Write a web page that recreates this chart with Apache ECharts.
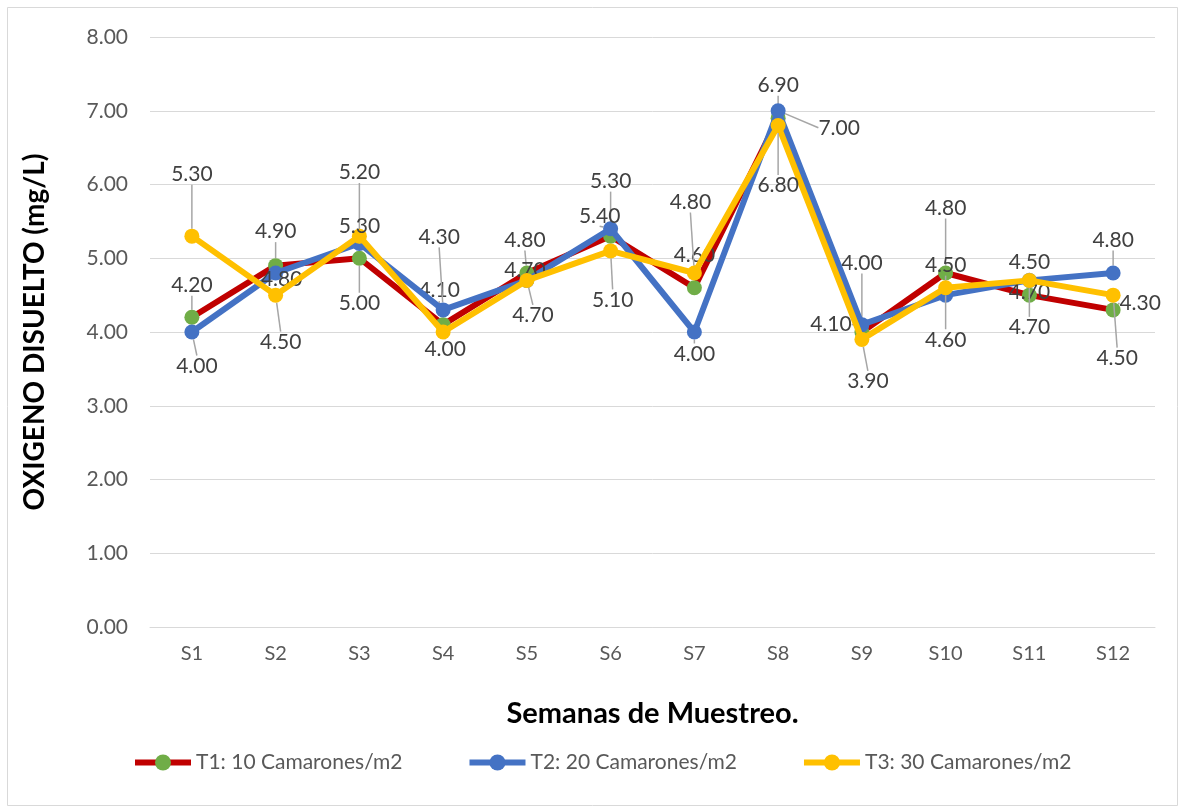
<!DOCTYPE html>
<html>
<head>
<meta charset="utf-8">
<script src="https://cdn.jsdelivr.net/npm/echarts@6/dist/echarts.min.js"></script>
<style>
html,body{margin:0;padding:0;background:#fff;}
#c{width:1181px;height:809px;}
</style>
</head>
<body>
<div id="c"></div>
<script>
// ---- Data ----
var categories = ['S1','S2','S3','S4','S5','S6','S7','S8','S9','S10','S11','S12'];
var seriesNames = ['T1: 10 Camarones/m2','T2: 20 Camarones/m2','T3: 30 Camarones/m2'];
var t1Values = [4.2, 4.9, 5.0, 4.1, 4.8, 5.3, 4.6, 6.9, 4.0, 4.8, 4.5, 4.3];
var t2Values = [4.0, 4.8, 5.2, 4.3, 4.7, 5.4, 4.0, 7.0, 4.1, 4.5, 4.7, 4.8];
var t3Values = [5.3, 4.5, 5.3, 4.0, 4.7, 5.1, 4.8, 6.8, 3.9, 4.6, 4.7, 4.5];
var yTicks = [0, 1, 2, 3, 4, 5, 6, 7, 8];

// label offsets (pixels, relative to the marker) — styling only
var t1Off = [[0,-32],[0,-34],[0,45],[-4,-34],[-2,-33],[0,-55],[0,-33],[0,-33],[0,-69],[0,-65],[0,-33],[27,-7]];
var t2Off = [[5,34],[6,6],[0,-71],[-4,-73],[-2,-10],[-11,-13],[0,22],[61,17],[-31,0],[0,-30],[0,12],[0,-33]];
var t3Off = [[0,-62],[5,47],[0,-10],[2,17],[6,35],[2,49],[-4,-71],[0,60],[6,42],[0,52],[0,47],[4,63]];
var offsets = [t1Off, t2Off, t3Off];

var FONT = 'Lato, "Open Sans", sans-serif';
var chart = echarts.init(document.getElementById('c'), null, {renderer:'canvas'});

function mkSeries(idx, name, data, lineColor, symColor) {
  return {
    name: name,
    type: 'line',
    data: data,
    z: 2 + idx,
    symbol: 'circle',
    symbolSize: 15,
    lineStyle: {color: lineColor, width: 6},
    itemStyle: {color: symColor, borderWidth: 0},
    label: {
      show: true,
      position: 'inside',
      formatter: function(p){ return p.value.toFixed(2); },
      fontFamily: FONT,
      fontSize: 21,
      color: '#404040'
    },
    labelLine: {show: true, lineStyle: {color: '#A6A6A6', width: 1.5}},
    labelLayout: function(p) {
      var o = offsets[idx][p.dataIndex];
      return {dx: o[0], dy: o[1]};
    },
    emphasis: {disabled: true},
    animation: false
  };
}

var option = {
  backgroundColor: '#fff',
  animation: false,
  graphic: [{
    type: 'rect', left: 5, top: 5,
    shape: {width: 1170, height: 798},
    style: {fill: 'none', stroke: '#D9D9D9', lineWidth: 1},
    silent: true
  }],
  grid: {left: 150, right: 26, top: 37, bottom: 182},
  legend: {
    top: 747,
    left: 127,
    itemWidth: 56,
    itemHeight: 20,
    itemGap: 64,
    lineStyle: {width: 6},
    textStyle: {fontFamily: FONT, fontSize: 21, color: '#595959'},
    data: seriesNames
  },
  xAxis: {
    type: 'category',
    data: categories,
    boundaryGap: true,
    axisLine: {show: true, lineStyle: {color: '#D9D9D9', width: 1}},
    axisTick: {show: false},
    axisLabel: {fontFamily: FONT, fontSize: 20, color: '#595959', margin: 17},
    name: 'Semanas de Muestreo.',
    nameLocation: 'middle',
    nameGap: 72,
    nameTextStyle: {fontFamily: FONT, fontSize: 29, fontWeight: 'bold', color: '#000'}
  },
  yAxis: {
    type: 'value',
    min: 0, max: 8, interval: 1,
    axisLine: {show: false},
    axisTick: {show: false},
    splitLine: {lineStyle: {color: '#D9D9D9', width: 1}},
    axisLabel: {fontFamily: FONT, fontSize: 21, color: '#595959', margin: 22,
      formatter: function(v){ return v.toFixed(2); }},
    name: 'OXIGENO DISUELTO (mg/L)',
    nameLocation: 'middle',
    nameGap: 101,
    nameRotate: 90,
    nameTextStyle: {fontFamily: FONT, fontSize: 28, fontWeight: 'bold', color: '#000'}
  },
  series: [
    mkSeries(0, seriesNames[0], t1Values, '#C00000', '#70AD47'),
    mkSeries(1, seriesNames[1], t2Values, '#4472C4', '#4472C4'),
    mkSeries(2, seriesNames[2], t3Values, '#FFC000', '#FFC000')
  ]
};
chart.setOption(option);
</script>
</body>
</html>
